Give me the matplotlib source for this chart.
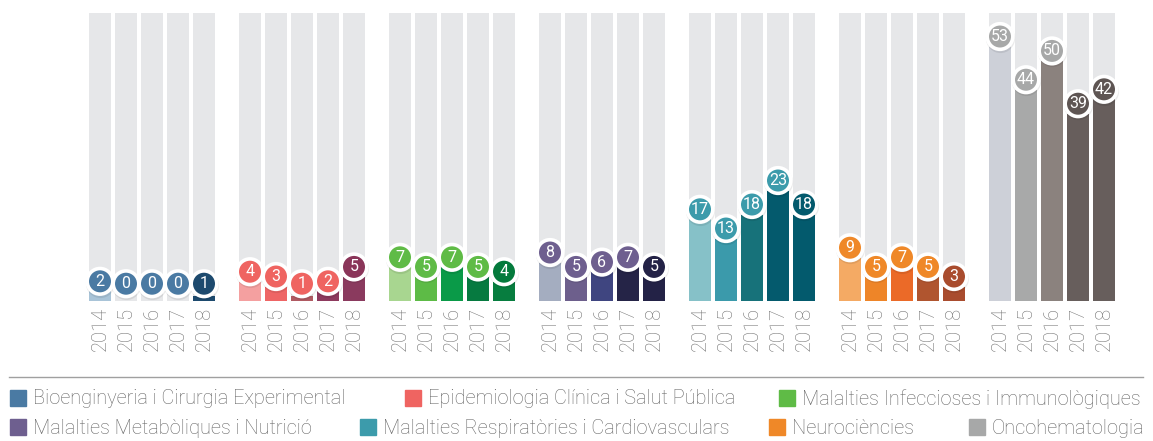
import matplotlib.pyplot as plt
from matplotlib.patches import Rectangle

plt.rcParams['font.family'] = ['Roboto', 'DejaVu Sans']

years = ["2014", "2015", "2016", "2017", "2018"]
areas = [
    "Bioenginyeria i Cirurgia Experimental",
    "Epidemiologia Clínica i Salut Pública",
    "Malalties Infeccioses i Immunològiques",
    "Malalties Metabòliques i Nutrició",
    "Malalties Respiratòries i Cardiovasculars",
    "Neurociències",
    "Oncohematologia",
]

bioeng = [2, 0, 0, 0, 1]
epidem = [4, 3, 1, 2, 5]
infecc = [7, 5, 7, 5, 4]
metab = [8, 5, 6, 7, 5]
respir = [17, 13, 18, 23, 18]
neuro = [9, 5, 7, 5, 3]
oncohem = [53, 44, 50, 39, 42]
values = [bioeng, epidem, infecc, metab, respir, neuro, oncohem]

legend_colors = ["#4a7aa3", "#ef6461", "#5fbb46", "#6e5f8f",
                 "#3c9bab", "#ef8828", "#a7a8a8"]
bar_colors = [
    ["#a9c4d8", "#3f74a0", "#1f5a85", "#1f5a85", "#1d4a6e"],
    ["#f4a0a0", "#ee6565", "#b05a62", "#8e3a5e", "#8a3a5e"],
    ["#a8d690", "#5dbb46", "#0a9a48", "#067a40", "#077d3f"],
    ["#a4adc0", "#6d5f8c", "#3f4580", "#252447", "#232246"],
    ["#86c1c8", "#3b9aab", "#17727a", "#045a6d", "#035a6d"],
    ["#f4aa64", "#ee8528", "#eb6a28", "#b0552f", "#a94c2e"],
    ["#cdd0d8", "#a8a9a9", "#8b827e", "#675e5c", "#675e5c"],
]
dot_colors = [
    ["#4a7aa3"] * 4 + ["#1d4a6e"],
    ["#ef6461"] * 4 + ["#8a3559"],
    ["#5fbb46"] * 4 + ["#047a3c"],
    ["#6e5f8f"] * 4 + ["#232246"],
    ["#3c9bab"] * 4 + ["#035a6d"],
    ["#ef8828"] * 4 + ["#a94c2e"],
    ["#a7a8a8"] * 3 + ["#5e5553"] * 2,
]

BG_TOP = 60
GAP = 150 / 26
W, H = 1153, 441

fig = plt.figure(figsize=(W / 100, H / 100), dpi=100)
ax = fig.add_axes([0, (H - 301) / H, 1, 301 / H])
ax.set_xlim(-100 / 26, (W - 100) / 26)
ax.set_ylim(0, 301 / 4.8)
ax.axis("off")

for g, vals in enumerate(values):
    xs = [g * GAP + i for i in range(len(years))]
    ax.bar(xs, [BG_TOP] * 5, width=0.85, color="#e6e7e9", zorder=1)
    ax.bar(xs, vals, width=0.85, color=bar_colors[g], zorder=2)
    ys = [max(v, 1.5) + 2.1 for v in vals]
    ax.scatter(xs, [y - 0.3 for y in ys], s=440, color="#00000014",
               linewidth=0, zorder=3)
    ax.scatter(xs, ys, s=340, color=dot_colors[g], edgecolor="white",
               linewidth=2.6, zorder=4)
    for x, y, v in zip(xs, ys, vals):
        ax.text(x, y, str(v), color="white", ha="center", va="center",
                fontsize=11.5, zorder=5)
    for x, yr in zip(xs, years):
        ax.text(x, -1.3, yr, rotation=90, ha="center", va="top",
                color="#707070", fontsize=14.5, fontweight="light",
                clip_on=False)

# legend
fig.add_artist(plt.Line2D([9 / W, 1143 / W], [1 - 377 / H, 1 - 377 / H],
                          color="#a0a0a0", lw=1))
slots = [(10, 398), (405, 398), (779, 398),
         (10, 427), (360, 427), (769, 427), (969, 427)]
for (px, py), name, col in zip(slots, areas, legend_colors):
    fig.add_artist(Rectangle((px / W, 1 - (py + 8) / H), 16 / W, 16 / H,
                             color=col, transform=fig.transFigure))
    fig.text((px + 23) / W, 1 - (py + 1) / H, name, color="#666666",
             fontsize=14.4, fontweight="light", va="center", ha="left")

fig.savefig("out.png", dpi=100)
